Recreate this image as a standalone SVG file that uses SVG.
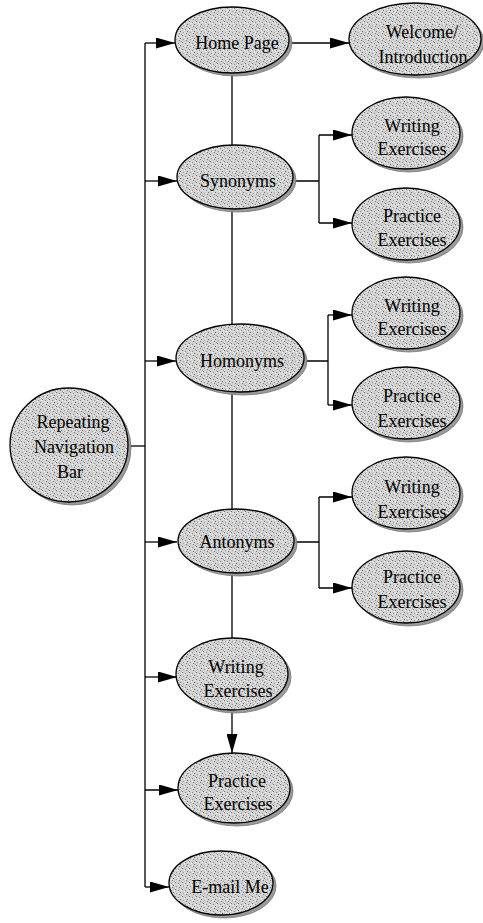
<svg xmlns="http://www.w3.org/2000/svg" width="483" height="923" viewBox="0 0 483 923">
<defs>
<pattern id="stip" width="7" height="7" patternUnits="userSpaceOnUse">
<rect width="7" height="7" fill="#d2d2d2"/>
<rect x="0" y="0" width="1" height="1" fill="#6e6e6e"/>
<rect x="3" y="1" width="1" height="1" fill="#8a8a8a"/>
<rect x="5" y="3" width="1" height="1" fill="#6e6e6e"/>
<rect x="1" y="4" width="1" height="1" fill="#9a9a9a"/>
<rect x="4" y="5" width="1" height="1" fill="#7a7a7a"/>
<rect x="6" y="6" width="1" height="1" fill="#a0a0a0"/>
<rect x="2" y="2" width="1" height="1" fill="#f4f4f4"/>
<rect x="6" y="1" width="1" height="1" fill="#f4f4f4"/>
<rect x="0" y="6" width="1" height="1" fill="#f0f0f0"/>
<rect x="3" y="4" width="1" height="1" fill="#f4f4f4"/>
</pattern>
<marker id="ah" markerUnits="userSpaceOnUse" markerWidth="19" markerHeight="11" refX="19" refY="5.5" orient="auto">
<path d="M0,0 L19,5.5 L0,11 z" fill="#000"/>
</marker>
</defs>
<style>
.sh{fill:#9a9a9a;stroke:#777;stroke-width:0.8}
.nd{fill:url(#stip);stroke:#000;stroke-width:1.3}
.t{font-family:"Liberation Serif","Times New Roman",serif;font-size:18px;fill:#000;text-anchor:middle}
.c{fill:none;stroke:#000;stroke-width:1.3}
.a{fill:none;stroke:#000;stroke-width:1.3;marker-end:url(#ah)}
</style>
<g id="connectors">
<path class="c" d="M145,43 L145,887"/>
<path class="c" d="M128,446 L145,446"/>
<path class="a" d="M145,43 L175,43"/>
<path class="a" d="M145,181 L177,181"/>
<path class="a" d="M145,361 L176,361"/>
<path class="a" d="M145,542 L177,542"/>
<path class="a" d="M145,677 L177,677"/>
<path class="a" d="M145,790 L178,790"/>
<path class="a" d="M145,887 L169,887"/>
<path class="a" d="M290,43 L349,43"/>
<path class="c" d="M232,74 L232,146 M232,210 L232,325 M232,393 L232,510 M232,574 L232,638"/>
<path class="a" d="M232,711 L232,753"/>
<path class="c" d="M294,181 L319,181 M319,135 L319,223"/>
<path class="a" d="M319,135 L352,135"/>
<path class="a" d="M319,223 L352,223"/>
<path class="c" d="M305,361 L328,361 M328,315 L328,405"/>
<path class="a" d="M328,315 L352,315"/>
<path class="a" d="M328,405 L352,405"/>
<path class="c" d="M295,542 L319,542 M319,497 L319,588"/>
<path class="a" d="M319,497 L352,497"/>
<path class="a" d="M319,588 L352,588"/>
</g>
<g id="nav">
<ellipse class="sh" cx="72" cy="448" rx="59" ry="57"/>
<ellipse class="nd" cx="69" cy="445" rx="59" ry="57"/>
<text class="t" x="73" y="428">Repeating</text>
<text class="t" x="74" y="453">Navigation</text>
<text class="t" x="70" y="478">Bar</text>
</g>
<g id="home">
<ellipse class="sh" cx="235" cy="43" rx="57" ry="33"/>
<ellipse class="nd" cx="232" cy="40" rx="57" ry="33"/>
<text class="t" x="237" y="49">Home Page</text>
</g>
<g id="welcome">
<ellipse class="sh" cx="418" cy="42" rx="66" ry="36"/>
<ellipse class="nd" cx="415" cy="39" rx="66" ry="36"/>
<text class="t" x="422" y="38">Welcome/</text>
<text class="t" x="423" y="63">Introduction</text>
</g>
<g id="synonyms">
<ellipse class="sh" cx="238" cy="180" rx="58" ry="32"/>
<ellipse class="nd" cx="235" cy="177" rx="58" ry="32"/>
<text class="t" x="238" y="187">Synonyms</text>
</g>
<g id="syn-writing">
<ellipse class="sh" cx="409" cy="136" rx="54" ry="36"/>
<ellipse class="nd" cx="406" cy="133" rx="54" ry="36"/>
<text class="t" x="412" y="132">Writing</text>
<text class="t" x="412" y="155">Exercises</text>
</g>
<g id="syn-practice">
<ellipse class="sh" cx="409" cy="227" rx="54" ry="36"/>
<ellipse class="nd" cx="406" cy="224" rx="54" ry="36"/>
<text class="t" x="412" y="222">Practice</text>
<text class="t" x="412" y="246">Exercises</text>
</g>
<g id="homonyms">
<ellipse class="sh" cx="243" cy="361" rx="64" ry="34"/>
<ellipse class="nd" cx="240" cy="358" rx="64" ry="34"/>
<text class="t" x="242" y="367">Homonyms</text>
</g>
<g id="hom-writing">
<ellipse class="sh" cx="409" cy="316" rx="54" ry="36"/>
<ellipse class="nd" cx="406" cy="313" rx="54" ry="36"/>
<text class="t" x="412" y="312">Writing</text>
<text class="t" x="412" y="335">Exercises</text>
</g>
<g id="hom-practice">
<ellipse class="sh" cx="409" cy="406" rx="54" ry="36"/>
<ellipse class="nd" cx="406" cy="403" rx="54" ry="36"/>
<text class="t" x="412" y="402">Practice</text>
<text class="t" x="412" y="427">Exercises</text>
</g>
<g id="antonyms">
<ellipse class="sh" cx="239" cy="544" rx="58" ry="32"/>
<ellipse class="nd" cx="236" cy="541" rx="58" ry="32"/>
<text class="t" x="237" y="548">Antonyms</text>
</g>
<g id="ant-writing">
<ellipse class="sh" cx="409" cy="496" rx="54" ry="36"/>
<ellipse class="nd" cx="406" cy="493" rx="54" ry="36"/>
<text class="t" x="412" y="493">Writing</text>
<text class="t" x="412" y="518">Exercises</text>
</g>
<g id="ant-practice">
<ellipse class="sh" cx="409" cy="590" rx="54" ry="36"/>
<ellipse class="nd" cx="406" cy="587" rx="54" ry="36"/>
<text class="t" x="412" y="583">Practice</text>
<text class="t" x="412" y="608">Exercises</text>
</g>
<g id="writing">
<ellipse class="sh" cx="235" cy="677" rx="56" ry="36"/>
<ellipse class="nd" cx="232" cy="674" rx="56" ry="36"/>
<text class="t" x="236" y="673">Writing</text>
<text class="t" x="238" y="697">Exercises</text>
</g>
<g id="practice">
<ellipse class="sh" cx="237" cy="791" rx="56" ry="35"/>
<ellipse class="nd" cx="234" cy="788" rx="56" ry="35"/>
<text class="t" x="237" y="787">Practice</text>
<text class="t" x="238" y="810">Exercises</text>
</g>
<g id="email">
<ellipse class="sh" cx="224" cy="886" rx="52" ry="32"/>
<ellipse class="nd" cx="221" cy="883" rx="52" ry="32"/>
<text class="t" x="230" y="893">E-mail Me</text>
</g>
</svg>
